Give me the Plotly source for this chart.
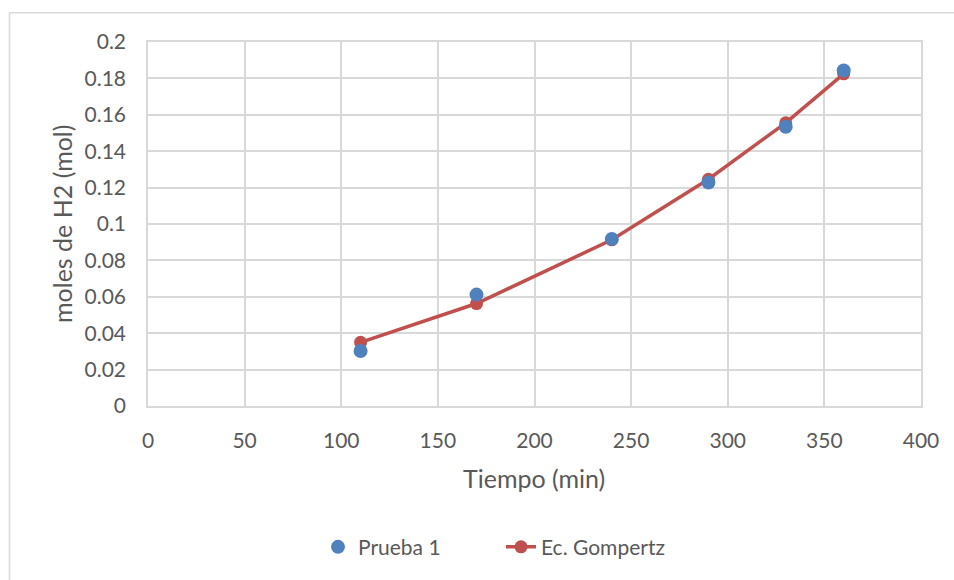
import plotly.graph_objects as go

# Tiempo (min)
tiempo = [110, 170, 240, 290, 330, 360]
# moles de H2 medidos (Prueba 1)
prueba_1 = [0.0302, 0.0612, 0.0918, 0.1228, 0.1534, 0.1843]
# ajuste con la ecuación de Gompertz
gompertz = [0.0350, 0.0563, 0.0913, 0.1246, 0.1556, 0.1825]

x_ticks = [0, 50, 100, 150, 200, 250, 300, 350, 400]
y_ticks = [0, 0.02, 0.04, 0.06, 0.08, 0.1, 0.12, 0.14, 0.16, 0.18, 0.2]

FONT = "Lato"
TEXT = "#595959"
GRID = "#D9D9D9"
BLUE = "#4F81BD"
RED = "#C0504D"

fig = go.Figure()

# fitted curve first so the measured points sit on top of it
fig.add_trace(go.Scatter(
    x=tiempo, y=gompertz, mode="lines+markers", name="Ec. Gompertz",
    line=dict(color=RED, width=3.5),
    marker=dict(color=RED, size=13, line=dict(width=0)),
))
fig.add_trace(go.Scatter(
    x=tiempo, y=prueba_1, mode="markers", name="Prueba 1",
    marker=dict(color=BLUE, size=14, line=dict(width=0)),
))

fig.update_layout(
    width=954, height=580,
    margin=dict(l=148, r=33, t=42, b=172),
    paper_bgcolor="white", plot_bgcolor="white",
    font=dict(family=FONT, color=TEXT, size=21),
    showlegend=True,
    legend=dict(
        orientation="h", x=(318 - 148) / 773, xanchor="left",
        y=(408 - 550) / 366, yanchor="middle",
        font=dict(family=FONT, size=21, color=TEXT),
        traceorder="reversed", entrywidth=138, entrywidthmode="pixels",
    ),
    xaxis=dict(
        range=[0, 400], tickvals=x_ticks, ticktext=[str(v) for v in x_ticks],
        showgrid=True, gridcolor=GRID, gridwidth=1.5,
        showline=True, linecolor=GRID, linewidth=1.5, mirror=True,
        zeroline=False, ticks="", ticklabelstandoff=15,
        tickfont=dict(family=FONT, size=21, color=TEXT),
    ),
    yaxis=dict(
        range=[0, 0.2], tickvals=y_ticks, ticktext=[f"{v:g}" for v in y_ticks],
        showgrid=True, gridcolor=GRID, gridwidth=1.5,
        showline=True, linecolor=GRID, linewidth=1.5, mirror=True,
        zeroline=False, ticks="", ticklabelstandoff=16,
        tickfont=dict(family=FONT, size=21, color=TEXT),
    ),
    annotations=[
        dict(text="Tiempo (min)", xref="paper", yref="paper",
             x=(534 - 148) / 773, y=(408 - 480) / 366,
             xanchor="center", yanchor="middle", showarrow=False,
             font=dict(family=FONT, size=25, color=TEXT)),
        dict(text="moles de H2 (mol)", xref="paper", yref="paper",
             x=(62 - 148) / 773, y=(408 - 225) / 366, textangle=-90,
             xanchor="center", yanchor="middle", showarrow=False,
             font=dict(family=FONT, size=25, color=TEXT)),
    ],
    shapes=[
        dict(type="rect", xref="paper", yref="paper",
             x0=(9.5 - 148) / 773, x1=(970 - 148) / 773,
             y0=(408 - 600) / 366, y1=(408 - 12.5) / 366,
             line=dict(color=GRID, width=1.5), fillcolor="rgba(0,0,0,0)",
             layer="below"),
    ],
)

fig.write_html("out.html")
